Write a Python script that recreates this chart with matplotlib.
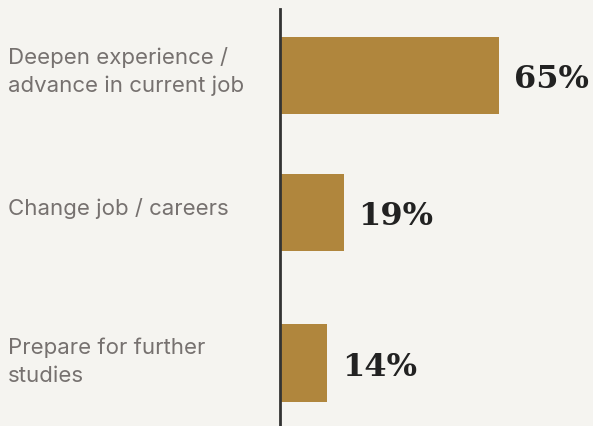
import matplotlib
matplotlib.use("Agg")
import matplotlib.pyplot as plt

# data
categories = ["Deepen experience /\nadvance in current job",
              "Change job / careers",
              "Prepare for further\nstudies"]
values = [65, 19, 14]
value_labels = ["65%", "19%", "14%"]

bg = "#f5f4f0"
bar_color = "#b0863d"
text_gray = "#76716f"

W, H = 593, 427
fig = plt.figure(figsize=(W / 100, H / 100), dpi=100, facecolor=bg)
# axes spans from the vertical rule at x=280 to the right edge
ax = fig.add_axes([280 / W, 0, 1 - 280 / W, 1 - 10 / H], facecolor=bg)

pos = [0, 1, 2.1]  # vertical slots (uneven, like the original)
ax.barh(pos, values, height=0.565, color=bar_color, zorder=2)

ax.set_xlim(0, (W - 280) / 3.37)
ax.set_ylim(2.56, -0.485)

for p, v, lab in zip(pos, values, value_labels):
    ax.annotate(lab, (v, p), xytext=(10.5, 0), textcoords="offset points",
                va="center_baseline", ha="left", fontsize=23, fontweight="bold",
                family="DejaVu Serif", color="#222222")

# small vertical nudges (points) so the labels sit like in the original
nudge = [3.5, 3.5, 1.5]
for p, c, dy in zip(pos, categories, nudge):
    ax.annotate(c, (0, p), xytext=(-272 * 0.72, dy), textcoords="offset points",
                ha="left", va="center", fontsize=16, family="Inter",
                color=text_gray, linespacing=1.5, annotation_clip=False)

for s in ["top", "right", "bottom"]:
    ax.spines[s].set_visible(False)
ax.spines["left"].set_color("#333333")
ax.spines["left"].set_linewidth(2)
ax.set_xticks([])
ax.set_yticks([])

fig.savefig("out.png", dpi=100, facecolor=bg)
